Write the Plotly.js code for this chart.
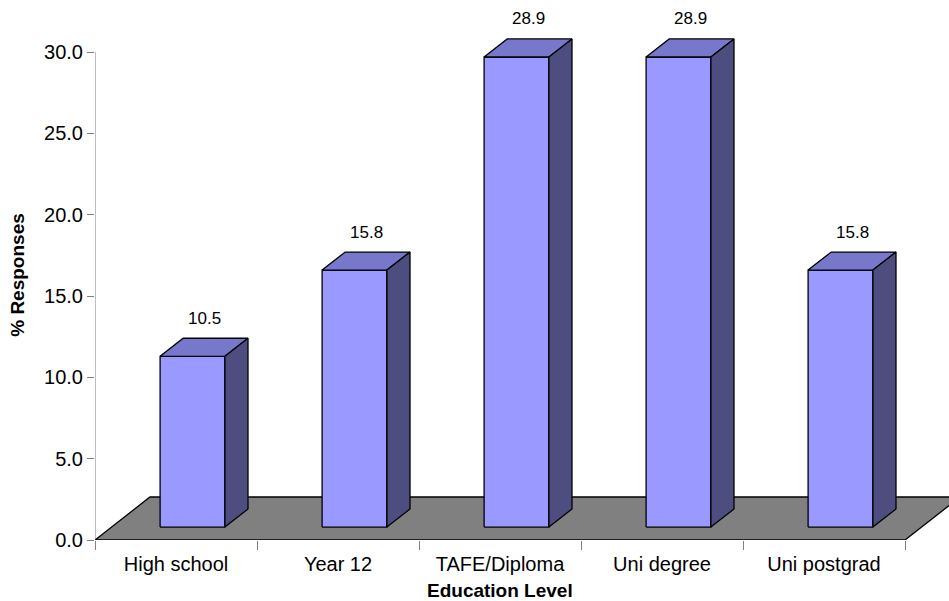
<!DOCTYPE html>
<html>
<head>
<meta charset="utf-8">
<script src="https://cdn.plot.ly/plotly-3.0.1.min.js"></script>
<style>
  html, body { margin: 0; padding: 0; background: #ffffff; }
  #chart { width: 949px; height: 601px; }
</style>
</head>
<body>
<div id="chart"></div>
<script>
// Survey results: share of responses by education level
const categories = ['High school', 'Year 12', 'TAFE/Diploma', 'Uni degree', 'Uni postgrad'];
const responses = [10.5, 15.8, 28.9, 28.9, 15.8];
const yTickVals = [0, 5, 10, 15, 20, 25, 30];
const yTickText = ['0.0', '5.0', '10.0', '15.0', '20.0', '25.0', '30.0'];

// Page geometry (pixels)
const W = 949, H = 601;
const plotLeft = 95, plotTop = 10, plotBottom = 540;
const pxPerCat = 162;          // horizontal size of one category slot
const pxPerUnit = 488 / 30;    // vertical size of one percentage point

const xMin = -0.5;
const xMax = xMin + (W - plotLeft) / pxPerCat;
const yMax = (plotBottom - plotTop) / pxPerUnit;

// Oblique depth direction of the 3-D floor, in data units
const depthX = 55 / pxPerCat;
const depthY = 43 / pxPerUnit;
const barFront = 0.30;   // fraction of the floor depth in front of each bar
const barDepth = 0.42;   // fraction of the floor depth taken by each bar
const halfWidth = 0.2;

const FONT = 'Arial, "Liberation Sans", sans-serif';
const traces = [];

function face(xs, ys, color) {
  traces.push({
    type: 'scatter', mode: 'lines',
    x: xs.concat([xs[0]]), y: ys.concat([ys[0]]),
    fill: 'toself', fillcolor: color,
    line: { color: '#000000', width: 1.3 },
    hoverinfo: 'skip', showlegend: false
  });
}

// Floor
const n = categories.length;
face([xMin, n - 0.5, n - 0.5 + depthX, xMin + depthX],
     [0, 0, depthY, depthY], '#808080');

// Bars: front, top and right side faces
const annotations = [];
responses.forEach((v, i) => {
  const ox = barFront * depthX, oy = barFront * depthY;
  const dx = barDepth * depthX, dy = barDepth * depthY;
  const x0 = i - halfWidth + ox, x1 = i + halfWidth + ox;
  const y0 = oy, y1 = oy + v;
  face([x0, x1, x1, x0], [y0, y0, y1, y1], '#9999ff');
  face([x0, x1, x1 + dx, x0 + dx], [y1, y1, y1 + dy, y1 + dy], '#7777cc');
  face([x1, x1 + dx, x1 + dx, x1], [y0, y0 + dy, y1 + dy, y1], '#4d4d80');
  annotations.push({
    xref: 'x', yref: 'y',
    x: i + ox + dx / 2, y: y1 + dy / 2,
    text: v.toFixed(1), showarrow: false,
    xanchor: 'center', yanchor: 'middle', yshift: 29,
    font: { family: FONT, size: 17, color: '#000000' }
  });
});

// X axis title, centred under the category slots
annotations.push({
  xref: 'x', yref: 'paper',
  x: (n - 1) / 2, y: 0, yshift: -50,
  text: '<b>Education Level</b>', showarrow: false,
  xanchor: 'center', yanchor: 'middle',
  font: { family: FONT, size: 19, color: '#000000' }
});

const boundaries = [];
for (let k = 0; k <= n; k++) boundaries.push(k - 0.5);

const layout = {
  width: W, height: H,
  margin: { l: plotLeft, r: 0, t: plotTop, b: H - plotBottom, pad: 0 },
  paper_bgcolor: '#ffffff', plot_bgcolor: 'rgba(0,0,0,0)',
  showlegend: false,
  font: { family: FONT, size: 20, color: '#000000' },
  xaxis: {
    range: [xMin, xMax], fixedrange: true,
    showgrid: false, zeroline: false, showline: false,
    tickmode: 'array', tickvals: categories.map((c, i) => i), ticktext: categories,
    ticks: '', ticklabelstandoff: 10,
    tickfont: { family: FONT, size: 20, color: '#000000' },
    minor: { tickmode: 'array', tickvals: boundaries, ticks: 'outside',
             ticklen: 9, tickcolor: '#808080', tickwidth: 1, showgrid: false }
  },
  yaxis: {
    range: [0, yMax], fixedrange: true,
    showgrid: false, zeroline: false, showline: false,
    tickmode: 'array', tickvals: yTickVals, ticktext: yTickText,
    ticks: 'outside', ticklen: 7, tickcolor: '#808080', tickwidth: 1,
    tickfont: { family: FONT, size: 20, color: '#000000' },
    title: { text: '<b>% Responses</b>', standoff: 14,
             font: { family: FONT, size: 19, color: '#000000' } }
  },
  shapes: [{
    type: 'line', xref: 'x', yref: 'y', layer: 'below',
    x0: xMin, x1: xMin, y0: 0, y1: 30,
    line: { color: '#808080', width: 1 }
  }],
  annotations: annotations
};

Plotly.newPlot('chart', traces, layout, { displayModeBar: false, staticPlot: true });
</script>
</body>
</html>
